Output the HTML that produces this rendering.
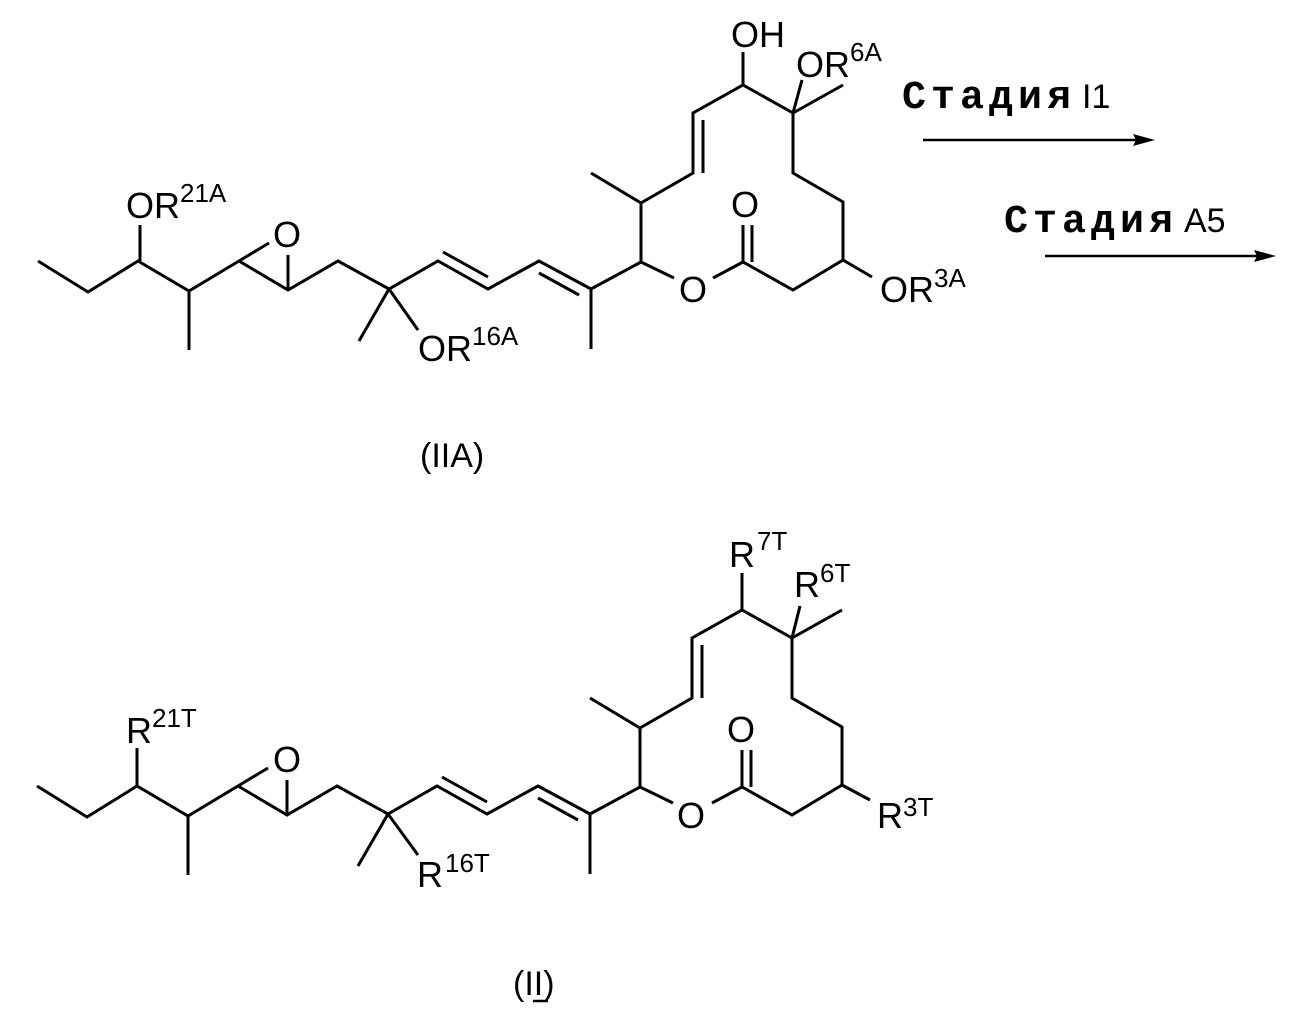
<!DOCTYPE html>
<html><head><meta charset="utf-8"><style>
html,body{margin:0;padding:0;background:#fff;}
svg{display:block;}
text{font-family:"Liberation Sans",sans-serif;fill:#000;}
.m{font-family:"Liberation Mono",monospace;font-weight:bold;}
</style></head><body>
<svg width="1304" height="1032" viewBox="0 0 1304 1032" xmlns="http://www.w3.org/2000/svg">
<defs>
<g id="sk" fill="none" stroke="#000" stroke-width="3" stroke-linejoin="miter" stroke-linecap="butt">
  <polyline points="37,786 87,817 137,786 188,816 238,786 287,815 337,786 388,814 437,786 487,814 538,786 590,814 640,787"/>
  <line x1="188" y1="816" x2="188" y2="875"/>
  <line x1="238" y1="786" x2="268" y2="768"/>
  <line x1="287" y1="815" x2="287" y2="780"/>
  <line x1="388" y1="814" x2="358" y2="866"/>
  <line x1="442" y1="777" x2="487" y2="802"/>
  <line x1="538" y1="798" x2="578" y2="820"/>
  <line x1="590" y1="814" x2="590" y2="874"/>
  <polyline points="640,787 640,728 692,698 692,638 742,610 792,638 792,698 842,727 842,785 792,815 742,787 712,803"/>
  <line x1="640" y1="728" x2="590" y2="698"/>
  <line x1="702" y1="645" x2="702" y2="698"/>
  <line x1="792" y1="638" x2="842" y2="610"/>
  <line x1="742" y1="787" x2="742" y2="750"/>
  <line x1="751" y1="787" x2="751" y2="750"/>
  <line x1="673" y1="803" x2="640" y2="787"/>
</g>
</defs>

<use href="#sk" transform="translate(1,-525)"/>
<g fill="none" stroke="#000" stroke-width="3">
  <line x1="140" y1="261" x2="140" y2="225"/>
  <line x1="389" y1="289" x2="418" y2="330"/>
  <line x1="743" y1="85" x2="743" y2="52"/>
  <line x1="793" y1="113" x2="802" y2="80"/>
  <line x1="843" y1="260" x2="872" y2="277"/>
</g>
<text x="126" y="218" font-size="36">OR<tspan dy="-16" font-size="26">21A</tspan></text>
<text x="273" y="247" font-size="36">O</text>
<text x="418" y="361" font-size="36">OR<tspan dy="-16" font-size="26">16A</tspan></text>
<text x="731" y="47" font-size="36">OH</text>
<text x="796" y="77" font-size="36">OR<tspan dy="-16" font-size="26">6A</tspan></text>
<text x="731" y="217" font-size="36">O</text>
<text x="679" y="302" font-size="36">O</text>
<text x="880" y="302" font-size="36">OR<tspan dy="-15" font-size="26">3A</tspan></text>
<text x="420" y="467" font-size="34">(IIA)</text>

<text x="902" y="108" font-size="40" class="m" letter-spacing="5">Стадия</text>
<text x="1082" y="108" font-size="34">I1</text>
<line x1="923" y1="140" x2="1138" y2="140" stroke="#000" stroke-width="2.5"/>
<polygon points="1155,140 1133,134 1136,140 1133,146" fill="#000"/>
<text x="1004" y="232" font-size="40" class="m" letter-spacing="5">Стадия</text>
<text x="1184" y="232" font-size="34">A5</text>
<line x1="1045" y1="256" x2="1258" y2="256" stroke="#000" stroke-width="2.5"/>
<polygon points="1276,256 1254,250 1257,256 1254,262" fill="#000"/>

<use href="#sk"/>
<g fill="none" stroke="#000" stroke-width="3">
  <line x1="137" y1="786" x2="137" y2="748"/>
  <line x1="388" y1="814" x2="418" y2="855"/>
  <line x1="742" y1="610" x2="742" y2="573"/>
  <line x1="792" y1="638" x2="800" y2="606"/>
  <line x1="842" y1="785" x2="870" y2="800"/>
</g>
<text x="126" y="743" font-size="36">R<tspan dy="-16" font-size="26">21T</tspan></text>
<text x="273" y="772" font-size="36">O</text>
<text x="417" y="887" font-size="36">R<tspan dx="2" dy="-15" font-size="26">16T</tspan></text>
<text x="729" y="567" font-size="36">R<tspan dx="2" dy="-17" font-size="26">7T</tspan></text>
<text x="794" y="597" font-size="36">R<tspan dy="-15" font-size="26">6T</tspan></text>
<text x="727" y="742" font-size="36">O</text>
<text x="677" y="828" font-size="36">O</text>
<text x="877" y="828" font-size="36">R<tspan dy="-12" font-size="26">3T</tspan></text>
<text x="513" y="995" font-size="34">(II)</text>
<line x1="533" y1="1001" x2="548" y2="1001" stroke="#000" stroke-width="2.5"/>
</svg>
</body></html>
